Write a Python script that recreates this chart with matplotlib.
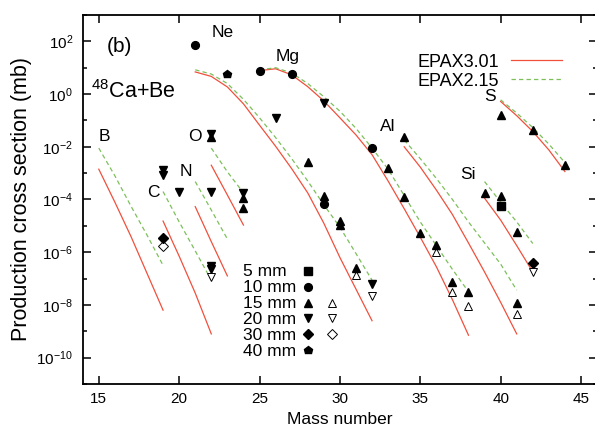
import matplotlib
matplotlib.use("Agg")
import matplotlib.pyplot as plt
from matplotlib.lines import Line2D
from matplotlib.ticker import FixedLocator, FuncFormatter, NullFormatter
import numpy as np

plt.rcParams['font.family'] = ['Liberation Sans', 'DejaVu Sans']
plt.rcParams['mathtext.fontset'] = 'custom'
plt.rcParams['mathtext.rm'] = 'Liberation Sans'
plt.rcParams['mathtext.default'] = 'regular'

# model curves, values are log10(sigma / mb)
b_A = [15, 16, 17, 18, 19]
b_epax3 = [-2.85, -4.1, -5.4, -6.8, -8.2]
b_epax2 = [-2.05, -3.1, -4.25, -5.35, -6.5]

c_A = [19, 20, 21, 22]
c_epax3 = [-4.82, -6.15, -7.55, -9.1]
c_epax2 = [-3.7, -4.85, -5.95, -7.06]

n_A = [21, 22, 23]
n_epax3 = [-4.27, -5.6, -6.9]
n_epax2 = [-3.32, -4.4, -5.5]

o_A = [22, 23, 24]
o_epax3 = [-2.7, -3.83, -4.97]
o_epax2 = [-2.05, -2.95, -3.75]

ne_A = [21, 22, 23, 24, 25, 26, 27, 28, 29, 30, 31, 32]
ne_epax3 = [0.84, 0.67, 0.27, -0.37, -1.18, -1.98, -2.83, -3.75, -4.9, -6.2, -7.4, -8.6]
ne_epax2 = [0.92, 0.76, 0.4, -0.2, -0.9, -1.65, -2.45, -3.3, -4.2, -5.05, -6.05, -7.06]

mg_A = [25, 26, 27, 28, 29, 30, 31, 32, 33, 34, 35, 36, 37, 38]
mg_epax3 = [0.89, 0.96, 0.73, 0.28, -0.26, -0.9, -1.55, -2.3, -3.3, -4.35, -5.43, -6.55, -7.8, -9.15]
mg_epax2 = [0.92, 1.0, 0.8, 0.4, -0.1, -0.65, -1.3, -2.05, -2.85, -3.85, -4.85, -5.75, -6.65, -7.5]

al_A = [34, 35, 36, 37, 38, 39, 40, 41]
al_epax3 = [-2.0, -2.77, -3.64, -4.57, -5.65, -6.75, -7.9, -9.1]
al_epax2 = [-1.74, -2.45, -3.2, -4.0, -4.85, -5.65, -6.45, -7.44]

si_A = [39, 40, 41, 42]
si_epax3 = [-3.95, -4.78, -5.75, -6.75]
si_epax2 = [-3.32, -4.1, -4.85, -5.67]

s_A = [40, 41, 42, 43, 44]
s_epax3 = [-0.28, -0.82, -1.42, -2.12, -2.94]
s_epax2 = [-0.22, -0.72, -1.27, -1.9, -2.6]

# measured points (mass number, log10 sigma)
mm5_A = [40]
mm5_y = [-4.24]
mm10_A = [21, 25, 27, 29, 32]
mm10_y = [1.85, 0.89, 0.76, -4.17, -2.05]
mm15_A = [22, 24, 24, 28, 29, 30, 30, 31, 33, 34, 34, 35, 36, 37, 38, 39, 40, 40, 41, 41, 42, 44]
mm15_y = [-1.62, -3.93, -4.34, -2.56, -3.86, -4.81, -4.97, -6.59, -2.81, -1.64, -3.89, -5.27,
          -5.73, -7.13, -7.51, -3.74, -0.79, -3.86, -5.22, -7.92, -1.36, -2.69]
mm15o_A = [31, 36, 37, 38, 41]
mm15o_y = [-6.86, -6.01, -7.52, -8.05, -8.33]
mm20_A = [19, 19, 20, 22, 22, 22, 22, 24, 26, 29, 32]
mm20_y = [-2.90, -3.06, -3.73, -1.50, -3.73, -6.52, -6.65, -3.74, -0.89, -0.32, -7.21]
mm20o_A = [22, 32, 42]
mm20o_y = [-6.94, -7.67, -6.75]
mm30_A = [19, 42]
mm30_y = [-5.45, -6.40]
mm30o_A = [19]
mm30o_y = [-5.77]
mm40_A = [23]
mm40_y = [0.77]

elements = ['B', 'C', 'N', 'O', 'Ne', 'Mg', 'Al', 'Si', 'S']
element_pos = [(15.35, -1.61), (18.4, -3.74), (20.4, -2.92), (20.96, -1.61), (22.72, 2.32),
               (26.76, 1.43), (32.98, -1.23), (37.96, -3.07), (39.36, -0.09)]

thick_labels = ['5 mm', '10 mm', '15 mm', '20 mm', '30 mm', '40 mm']
thick_markers = ['s', 'o', '^', 'v', 'D', 'p']
thick_open = [False, False, True, True, True, False]

red = '#f0503c'
green = '#7cc05a'

fig = plt.figure(figsize=(5.95, 4.36), dpi=100)
ax = fig.add_axes([0.139, 0.1193, 0.8645, 0.8463])

curves = [(b_A, b_epax3, b_epax2), (c_A, c_epax3, c_epax2), (n_A, n_epax3, n_epax2),
          (o_A, o_epax3, o_epax2), (ne_A, ne_epax3, ne_epax2), (mg_A, mg_epax3, mg_epax2),
          (al_A, al_epax3, al_epax2), (si_A, si_epax3, si_epax2), (s_A, s_epax3, s_epax2)]
for A, e3, e2 in curves:
    ax.plot(A, 10.0 ** np.array(e3), color=red, lw=0.9, zorder=2)
    ax.plot(A, 10.0 ** np.array(e2), color=green, lw=0.9, ls=(0, (3.5, 2.5)), zorder=2)

ms = 5.6
msize = {'s': 5.2, 'o': ms, '^': ms, 'v': ms, 'D': 4.6, 'p': 6.2}
open_kw = dict(ls='none', mfc='white', mec='black', mew=0.7, zorder=3)
fill_kw = dict(ls='none', color='black', zorder=4)
ax.plot(mm15o_A, 10.0 ** np.array(mm15o_y), marker='^', ms=msize['^'], **open_kw)
ax.plot(mm20o_A, 10.0 ** np.array(mm20o_y), marker='v', ms=msize['v'], **open_kw)
ax.plot(mm30o_A, 10.0 ** np.array(mm30o_y), marker='D', ms=msize['D'], **open_kw)
ax.plot(mm5_A, 10.0 ** np.array(mm5_y), marker='s', ms=msize['s'], **fill_kw)
ax.plot(mm10_A, 10.0 ** np.array(mm10_y), marker='o', ms=msize['o'], **fill_kw)
ax.plot(mm15_A, 10.0 ** np.array(mm15_y), marker='^', ms=msize['^'], **fill_kw)
ax.plot(mm20_A, 10.0 ** np.array(mm20_y), marker='v', ms=msize['v'], **fill_kw)
ax.plot(mm30_A, 10.0 ** np.array(mm30_y), marker='D', ms=msize['D'], **fill_kw)
ax.plot(mm40_A, 10.0 ** np.array(mm40_y), marker='p', ms=msize['p'], **fill_kw)

for name, (x, ly) in zip(elements, element_pos):
    ax.text(x, 10.0 ** ly, name, fontsize=12.5, ha='center', va='center')
ax.text(16.29, 10.0 ** 1.81, '(b)', fontsize=15, ha='center', va='center')
ax.text(14.53, 10.0 ** 0.1, r'$^{48}$Ca+Be', fontsize=15.5, ha='left', va='center')

ax.set_yscale('log')
ax.set_xlim(14, 46)
ax.set_ylim(1e-11, 1e3)
ax.xaxis.set_major_locator(FixedLocator([15, 20, 25, 30, 35, 40, 45]))
ax.yaxis.set_major_locator(FixedLocator([10.0 ** k for k in range(-10, 3, 2)]))
ax.yaxis.set_minor_locator(FixedLocator([10.0 ** k for k in range(-11, 4, 2)]))
ax.yaxis.set_major_formatter(FuncFormatter(lambda v, p: r'$10^{%d}$' % round(np.log10(v))))
ax.yaxis.set_minor_formatter(NullFormatter())
ax.tick_params(which='both', direction='in', top=True, right=True, labelsize=11, width=1.1)
ax.tick_params(which='major', length=5.5)
ax.tick_params(which='minor', length=3)
ax.tick_params(axis='x', pad=6)
ax.tick_params(axis='y', pad=7)
for sp in ax.spines.values():
    sp.set_linewidth(1.3)

ax.set_xlabel('Mass number', fontsize=12.5, labelpad=4)
ax.set_ylabel('Production cross section (mb)', fontsize=15.5, labelpad=3)

# model legend
model_handles = [Line2D([], [], color=red, lw=0.9),
                 Line2D([], [], color=green, lw=0.9, ls=(0, (3.5, 2.5)))]
ax.legend(model_handles, ['EPAX3.01', 'EPAX2.15'], loc='upper right',
          bbox_to_anchor=(0.95, 0.92), frameon=False, markerfirst=False,
          fontsize=13, handlelength=2.85, handletextpad=0.65, borderpad=0,
          labelspacing=0.12)

# target thickness key: label, filled symbol, open symbol
row0, step = 0.307, 0.0431
for i, (lab, mk, has_open) in enumerate(zip(thick_labels, thick_markers, thick_open)):
    yc = row0 - i * step
    ax.text(0.3122, yc - 0.0155, lab, transform=ax.transAxes, fontsize=12.5,
            ha='left', va='baseline')
    ax.plot([0.4374], [yc], marker=mk, ms=msize[mk], transform=ax.transAxes,
            clip_on=False, **fill_kw)
    if has_open:
        ax.plot([0.4841], [yc], marker=mk, ms=msize[mk], transform=ax.transAxes,
                clip_on=False, **open_kw)

fig.savefig('out.png', dpi=100)
